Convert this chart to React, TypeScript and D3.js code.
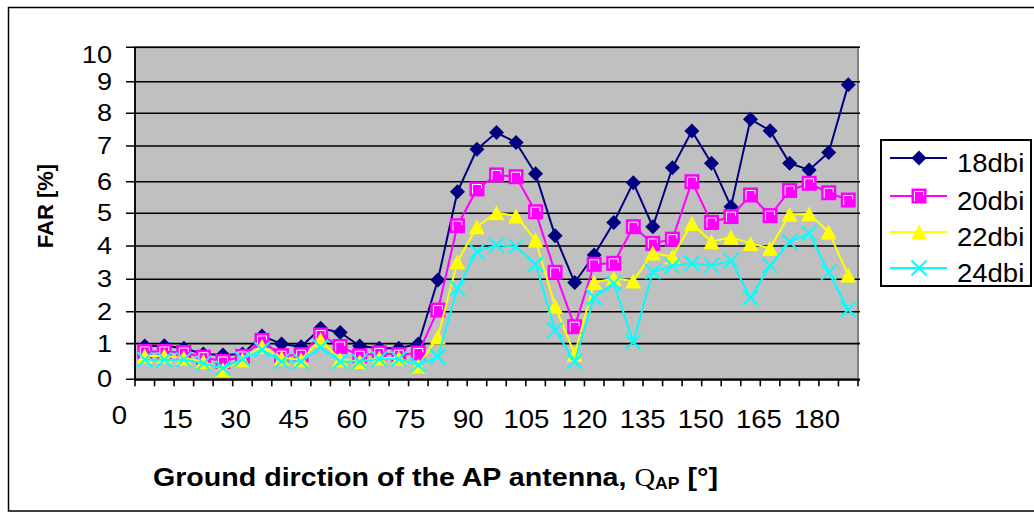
import React from "react";
import * as d3 from "d3";

const angles = [5,10,15,20,25,30,35,40,45,50,55,60,65,70,75,80,85,90,95,100,105,110,115,120,125,130,135,140,145,150,155,160,165,170,175,180,185];
const s18 = [0.93,0.94,0.87,0.71,0.68,0.71,1.24,0.99,0.91,1.48,1.35,0.93,0.87,0.87,0.99,2.98,5.68,6.91,7.41,7.11,6.22,4.31,2.9,3.73,4.72,5.97,4.59,6.39,7.46,6.52,5.21,7.82,7.47,6.52,6.33,6.82,8.9];
const s20 = [0.78,0.78,0.75,0.62,0.5,0.64,1.1,0.66,0.69,1.27,0.92,0.66,0.74,0.69,0.74,2.05,4.62,5.77,6.19,6.14,5.05,3.21,1.53,3.45,3.48,4.59,4.08,4.21,6.0,4.72,4.9,5.58,4.93,5.72,5.95,5.65,5.42];
const s22 = [0.65,0.65,0.6,0.5,0.27,0.55,0.92,0.6,0.55,1.12,0.55,0.5,0.6,0.6,0.37,1.21,3.53,4.59,5.02,4.92,4.18,2.17,0.7,2.9,3.03,2.95,3.79,3.68,4.69,4.13,4.27,4.08,3.93,4.97,4.98,4.43,3.13];
const s24 = [0.55,0.55,0.55,0.45,0.31,0.57,0.83,0.5,0.5,0.9,0.5,0.5,0.57,0.57,0.4,0.63,2.72,3.83,4.03,3.98,3.45,1.42,0.5,2.44,2.88,1.05,3.23,3.4,3.48,3.41,3.56,2.43,3.41,4.13,4.39,3.21,2.07];
const seriesNames = ["18dbi","20dbi","22dbi","24dbi"];
const seriesColors = ["#000080","#FF00FF","#FFFF00","#00FFFF"];
const yTicks = [0,1,2,3,4,5,6,7,8,9,10];
const xLabels = [0,15,30,45,60,75,90,105,120,135,150,165,180];

const FONT = "'Liberation Sans', Arial, sans-serif";
const L = 135, R = 858, T = 47.3, B = 379.3;

const x = d3.scaleBand<number>().domain(angles).range([L, R]).padding(0);
const y = d3.scaleLinear().domain(yTicks).range([379.3,343.6,311.7,279.3,246,213.3,181.7,146,113.3,81.7,47.3]);
const xl = d3.scaleLinear().domain([15,180]).range([177.5,817]);
const cx = (a: number) => (x(a) as number) + x.bandwidth() / 2;

function Marker({ k, px, py }: { k: number; px: number; py: number }) {
  const c = seriesColors[k];
  if (k === 0) return <path d={`M${px},${py-7.5}L${px+7.5},${py}L${px},${py+7.5}L${px-7.5},${py}Z`} fill={c} />;
  if (k === 1) return (
    <g>
      <rect x={px-7.5} y={py-7.5} width={15} height={15} fill={c} />
      <path d={`M${px-4.5},${py+5}V${py-4.5}H${px+4.5}V${py-0.5}`} fill="none" stroke="#fff" strokeWidth={1} />
    </g>
  );
  if (k === 2) return <path d={`M${px},${py-7.5}L${px+8},${py+7.5}L${px-8},${py+7.5}Z`} fill={c} />;
  return <path d={`M${px-7.5},${py-7.5}L${px+7.5},${py+7.5}M${px-7.5},${py+7.5}L${px+7.5},${py-7.5}`} stroke={c} strokeWidth={2} />;
}

function Txt({ x: tx, y: ty, s = 1.1, size, anchor = "start", weight = "normal", children }: any) {
  return (
    <text transform={`translate(${tx},${ty}) scale(${s},1)`} fontSize={size} fontFamily={FONT} fontWeight={weight} textAnchor={anchor} fill="#000">
      {children}
    </text>
  );
}

export default function App() {
  const data = [s18, s20, s22, s24];
  const line = d3.line<number>().x((_, i) => cx(angles[i])).y((v) => y(v));
  const boundaries = [...angles.map((a) => x(a) as number), R];
  const legendRows = [158, 196, 232, 268];
  return (
    <svg width={1034} height={518} style={{ position: "absolute", left: 0, top: 0 }}>
      <rect x={0} y={0} width={1034} height={518} fill="#fff" />
      <rect x={8.5} y={7.5} width={1040} height={503.5} fill="#fff" stroke="#000" strokeWidth={1.5} />
      <rect x={L} y={T} width={R - L} height={B - T} fill="#C0C0C0" stroke="#808080" strokeWidth={2} />
      {yTicks.map((t) => (
        <line key={t} x1={L - 9} x2={R + 2} y1={y(t)} y2={y(t)} stroke="#000" strokeWidth={1.6} />
      ))}
      <line x1={L} x2={L} y1={T} y2={B + 1} stroke="#000" strokeWidth={1.8} />
      <line x1={L} x2={R + 2} y1={B + 0.5} y2={B + 0.5} stroke="#000" strokeWidth={1.8} />
      {boundaries.map((b, i) => (
        <line key={i} x1={b} x2={b} y1={B} y2={B + 7} stroke="#000" strokeWidth={1.6} />
      ))}
      {yTicks.map((t) => (
        <Txt key={t} x={112} y={Math.max(y(t), T + 8) + 8} s={1.18} size={23} anchor="end">{t}</Txt>
      ))}
      {xLabels.map((v) => (
        <Txt key={v} x={xl(v)} y={v === 0 ? 424 : 428} s={1.1} size={25} anchor="middle">{v}</Txt>
      ))}
      {data.map((ser, k) => (
        <g key={k}>
          <path d={line(ser) as string} fill="none" stroke={seriesColors[k]} strokeWidth={2} />
          {ser.map((v, i) => (
            <Marker key={i} k={k} px={cx(angles[i])} py={y(v)} />
          ))}
        </g>
      ))}
      <text transform="translate(53,206) rotate(-90)" fontSize={22} fontWeight="bold" fontFamily={FONT} textAnchor="middle">FAR [%]</text>
      <text transform="translate(153,486) scale(1.1,1)" fontSize={26} fontWeight="bold" fontFamily={FONT}>
        Ground dirction of the AP antenna,{" "}
        <tspan fontFamily="'Liberation Serif', serif" fontWeight="normal">Q</tspan>
        <tspan fontSize={16} dy={3}>AP</tspan>
        <tspan dy={-3}> [°]</tspan>
      </text>
      <rect x={881} y={140} width={150} height={146} fill="#fff" stroke="#000" strokeWidth={2} />
      {seriesNames.map((n, k) => (
        <g key={n}>
          <line x1={890} x2={947} y1={legendRows[k]} y2={legendRows[k]} stroke={seriesColors[k]} strokeWidth={2} />
          <Marker k={k} px={919} py={legendRows[k]} />
          <Txt x={957} y={legendRows[k] + 13.5} s={1.1} size={25}>{n}</Txt>
        </g>
      ))}
    </svg>
  );
}
